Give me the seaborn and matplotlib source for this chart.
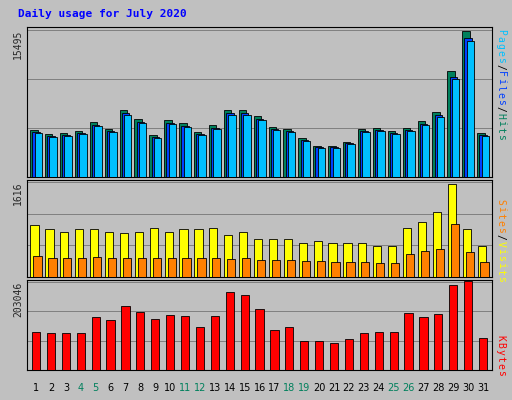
import matplotlib
matplotlib.use("Agg")
import matplotlib.pyplot as plt
import seaborn as sns
import numpy as np

sns.set_style("white")
plt.rcParams['font.family'] = ['DejaVu Sans Mono', 'DejaVu Sans']

days = list(range(1, 32))
weekend = [4, 5, 11, 12, 18, 19, 25, 26]
hits = [4970, 4550, 4660, 4870, 5810, 5070, 7060, 6120, 4450, 6010, 5700, 4760, 5490, 7060, 7060, 6430, 5280, 5070, 4130, 3300, 3300, 3720, 5070, 5180, 4870, 5180, 5910, 6850, 11140, 15420, 4660]
files = [h * 0.95 for h in hits]
pages = [h * 0.93 for h in hits]
visits = [880, 810, 770, 810, 810, 770, 740, 760, 840, 770, 810, 810, 840, 720, 760, 650, 650, 650, 580, 620, 580, 580, 580, 520, 520, 840, 930, 1100, 1580, 810, 520]
sites = [360, 330, 330, 330, 340, 320, 330, 320, 330, 320, 330, 320, 330, 310, 320, 290, 290, 290, 280, 280, 260, 250, 260, 240, 240, 390, 440, 480, 900, 420, 250]
kbytes = [88000, 84000, 84000, 86000, 121000, 114000, 148000, 134000, 117000, 126000, 124000, 98000, 124000, 179000, 172000, 141000, 93000, 98000, 67000, 67000, 62000, 72000, 86000, 88000, 88000, 131000, 122000, 129000, 196000, 205000, 74000]

fig = plt.figure(figsize=(5.12, 4.0), dpi=100, facecolor="#C0C0C0")
fig.text(0.035, 0.965, "Daily usage for July 2020", color="#0000FF", fontsize=8, fontweight="bold", va="center")

L, W = 0.053, 0.908
x = np.array(days, dtype=float)
axes_specs = [(0.5575, 0.375), (0.3075, 0.2425), (0.075, 0.225)]
axs = [fig.add_axes([L, b, W, h]) for b, h in axes_specs]
for ax in axs:
    ax.set_facecolor("#C0C0C0")
    for s in ax.spines.values():
        s.set_color("#000000")
    ax.set_xlim(0.4, 31.6)
    ax.set_xticks([])

def frame(ax, mx, label):
    ax.set_ylim(0, mx * 1.02)
    ax.set_yticks([mx])
    ax.set_yticklabels([label], rotation=90, va="top", fontsize=7)
    ax.tick_params(axis="y", length=0, pad=3)
    for f in (1/3, 2/3, 1.0):
        ax.axhline(mx * f, color="#808080", lw=0.7, zorder=0)

def bars(ax, xs, vals, color, w):
    ax.bar(xs, vals, width=w, color=color, edgecolor="black", linewidth=0.6, zorder=3)

a0 = axs[0]
frame(a0, 15495, "15495")
bars(a0, x - 0.15, hits, "#00805C", 0.5)
bars(a0, x, files, "#0040FF", 0.5)
bars(a0, x + 0.15, pages, "#00C0FF", 0.5)

a1 = axs[1]
frame(a1, 1616, "1616")
bars(a1, x - 0.1, visits, "#FFFF00", 0.55)
bars(a1, x + 0.1, sites, "#FF8000", 0.55)

a2 = axs[2]
frame(a2, 203046, "203046")
bars(a2, x, kbytes, "#FF0000", 0.55)

for d in days:
    fig.text(L + W * (d - 0.4) / 31.2, 0.03, str(d), ha="center", va="center",
             fontsize=7, family="DejaVu Sans", color="#00805C" if d in weekend else "black")

def side(y_px, parts):
    yy = y_px
    for t, c in parts:
        for ch in t:
            if ch != " ":
                fig.text(0.978, 1 - yy / 400, ch, rotation=270, color=c, fontsize=7,
                         ha="center", va="center")
            yy += 7

side(32, [("Pages", "#00C0FF"), ("/", "black"), ("Files", "#0040FF"), ("/", "black"), ("Hits", "#00805C")])
side(202, [("Sites", "#FF8000"), ("/", "black"), ("Visits", "#FFFF00")])
side(338, [("KBytes", "#FF0000")])

fig.savefig("out.png", dpi=100, facecolor=fig.get_facecolor())
